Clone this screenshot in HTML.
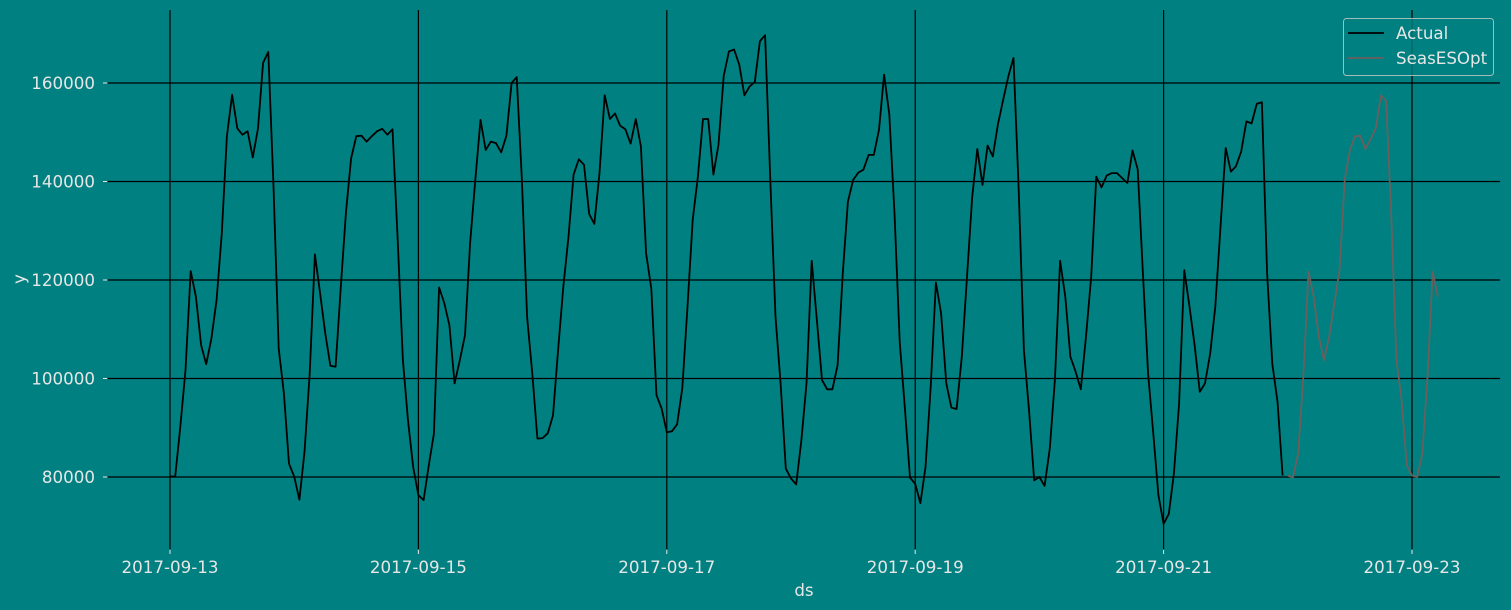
<!DOCTYPE html>
<html><head><meta charset="utf-8"><style>
html,body{margin:0;padding:0;background:#008080;width:1511px;height:610px;overflow:hidden}
svg{display:block}
text{font-family:"DejaVu Sans","Liberation Sans",sans-serif;fill:#e6e6e6}
</style></head><body>
<svg id="chart" width="1511" height="610" viewBox="0 0 1511 610" xmlns="http://www.w3.org/2000/svg">
<rect x="0" y="0" width="1511" height="610" fill="#008080"/>
<g id="grid"></g><g id="axes"></g><g id="series"></g><g id="legend"></g>
</svg>
<script>
const xTickLabels = ["2017-09-13","2017-09-15","2017-09-17","2017-09-19","2017-09-21","2017-09-23"];
const yTickValues = [80000,100000,120000,140000,160000];
const actualValues = [
80100,80100,90200,101700,121800,116600,106800,102900,108100,116000,129500,149200,157600,150800,149500,150200,144900,150800,164100,166300,139000,106100,97000,82700,
80100,75400,85100,101000,125200,117300,109100,102600,102400,118600,133600,144700,149200,149300,148100,149200,150200,150700,149500,150600,128100,103700,91500,82000,
76300,75300,82400,88800,118500,115300,110800,99000,103700,108800,127500,140300,152500,146400,148100,147800,145900,149300,160000,161200,140300,112500,101000,87800,
87900,88900,92500,105800,118600,128800,141400,144500,143400,133400,131400,141700,157500,152700,153800,151300,150600,147700,152700,147100,125400,118300,96600,93900,
89100,89300,90700,98000,114600,132200,141000,152700,152700,141400,147500,161400,166400,166800,163700,157500,159300,160200,168500,169700,140300,112500,99000,81700,
79700,78500,87500,99000,123900,111800,99700,97800,97800,102700,121400,135900,140300,141800,142400,145400,145400,150500,161700,153600,133600,107500,93900,79900,
78600,74700,82000,98300,119500,113200,99000,94100,93800,104400,120300,136600,146600,139300,147300,145100,151700,156600,161400,165100,138300,105800,93600,79300,
80000,78200,85800,99700,123900,116600,104400,101400,97800,108500,120700,141000,138800,141200,141700,141700,140700,139700,146300,142500,121400,101000,88800,76300,
70500,72500,80700,94900,122000,114600,106800,97300,99000,105100,114600,130800,146800,142000,143100,146100,152200,151800,155800,156100,121400,103000,95300,80300
];
const forecastValues = [
80300,79900,84700,100300,121700,116600,108500,103700,108500,115300,122000,140300,146400,149200,149300,146600,148500,150800,157500,156300,132900,103700,95600,82400,
80300,80000,84700,100300,121700,116600
];
const forecastStartHour = 216;

const NS="http://www.w3.org/2000/svg";
const X0=170, PX_PER_HOUR=1242/240;
const xScale = h => X0 + h*PX_PER_HOUR;
const yScale = v => 83 + (160000 - v)*0.004925;
const L=108, R=1500, T=10, B=549;
function mk(tag, attrs, parent){const e=document.createElementNS(NS,tag);for(const k in attrs)e.setAttribute(k,attrs[k]);parent.appendChild(e);return e;}
const grid=document.getElementById('grid'), axes=document.getElementById('axes'), series=document.getElementById('series'), legend=document.getElementById('legend');

yTickValues.forEach(v=>{
  const y=yScale(v);
  const g=mk('line',{x1:L,x2:R,y1:y,y2:y,stroke:'#000','stroke-width':1.2},grid);
  
  
  mk('line',{x1:103,x2:107,y1:y,y2:y,stroke:'#e6e6e6','stroke-width':1},axes);
  const t=mk('text',{x:95,y:y+6,'text-anchor':'end','font-size':16.7},axes);
  t.textContent=String(v);
  
  
});
xTickLabels.forEach((lab,i)=>{
  const x=xScale(i*48);
  const g=mk('line',{x1:x,x2:x,y1:T,y2:B,stroke:'#000','stroke-width':1.2},grid);
  
  
  mk('line',{x1:x,x2:x,y1:550,y2:554,stroke:'#e6e6e6','stroke-width':1},axes);
  const t=mk('text',{x:x,y:573,'text-anchor':'middle','font-size':16.7},axes);
  t.textContent=lab;
  
  
});
const xl=mk('text',{x:804,y:596,'text-anchor':'middle','font-size':16.7},axes);
xl.textContent='ds';


const yl=mk('text',{x:25,y:279,'text-anchor':'middle','font-size':16.7,transform:'rotate(-90 25 279)'},axes);
yl.textContent='y';



const pa=actualValues.map((v,i)=>xScale(i).toFixed(1)+','+yScale(v).toFixed(1)).join(' ');
const la=mk('polyline',{points:pa,fill:'none',stroke:'#000','stroke-width':1.8,'stroke-linejoin':'round'},series);


const pf=forecastValues.map((v,i)=>xScale(forecastStartHour+i).toFixed(1)+','+yScale(v).toFixed(1)).join(' ');
const lf=mk('polyline',{points:pf,fill:'none',stroke:'#6a5f5f','stroke-width':1.8,'stroke-linejoin':'round'},series);



const box=mk('rect',{x:1343.5,y:18.5,width:150,height:57,rx:3,fill:'#008080','fill-opacity':0.8,stroke:'#cccccc','stroke-opacity':0.8},legend);


[['Actual','#000',33],['SeasESOpt','#6a5f5f',58]].forEach(([name,col,y])=>{
  mk('line',{x1:1348,x2:1384,y1:y,y2:y,stroke:col,'stroke-width':1.8},legend);
  const t=mk('text',{x:1396,y:y+6,'font-size':16.7},legend);
  t.textContent=name;
  
  
});
</script>
</body></html>
